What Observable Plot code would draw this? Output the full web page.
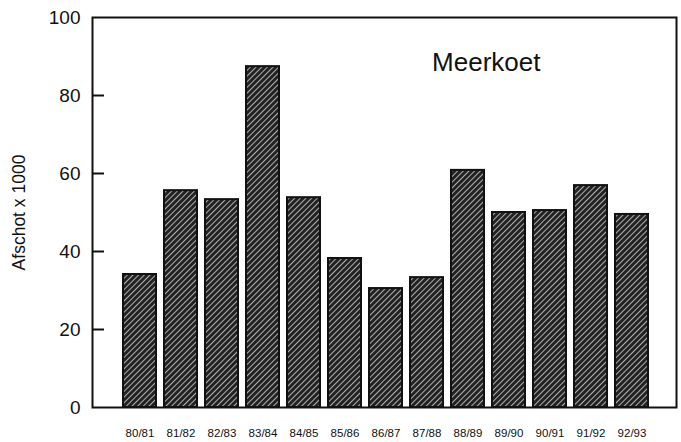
<!DOCTYPE html>
<html>
<head>
<meta charset="utf-8">
<script src="https://cdn.jsdelivr.net/npm/d3@7"></script>
<script src="https://cdn.jsdelivr.net/npm/@observablehq/plot@0.6"></script>
<style>
  html, body { margin: 0; padding: 0; background: #fff; }
  svg { display: block; }
</style>
</head>
<body>
<div id="chart"></div>
<script>
const seasons = ["80/81","81/82","82/83","83/84","84/85","85/86","86/87","87/88","88/89","89/90","90/91","91/92","92/93"];
const afschot = [34.1, 55.6, 53.3, 87.4, 53.8, 38.2, 30.5, 33.3, 60.8, 50.0, 50.5, 56.9, 49.5];
const yTicks = [0, 20, 40, 60, 80, 100];
const title = "Meerkoet";
const yLabel = "Afschot x 1000";

const data = seasons.map((s, i) => ({season: s, value: afschot[i]}));

const chart = Plot.plot({
  width: 681,
  height: 442,
  marginLeft: 92,
  marginRight: 5,
  marginTop: 17,
  marginBottom: 35,
  style: {fontFamily: "'Liberation Sans', Arial, sans-serif", background: "#fff", color: "#111"},
  x: {domain: seasons, range: [115.85, 655.1], paddingInner: 0.2, paddingOuter: 0.1},
  y: {domain: [0, 100]},
  marks: [
    Plot.barY(data, {x: "season", y: "value", fill: "url(#hatch)", stroke: "#111", strokeWidth: 2}),
    Plot.frame({stroke: "#111", strokeWidth: 2}),
    Plot.tickY(yTicks.slice(1, -1), {y: d => d, stroke: "#111", strokeWidth: 2, insetRight: 572}),
    Plot.axisY({ticks: yTicks, tickSize: 0, tickPadding: 12, label: null, fontSize: 19, tickFormat: d => String(d)}),
    Plot.axisX({tickSize: 0, tickPadding: 21, label: null, fontSize: 11.5}),
    Plot.text([yLabel], {frameAnchor: "left", dx: -73, rotate: -90, text: d => d, fontSize: 17.5, textAnchor: "middle", lineAnchor: "middle", fill: "#111"}),
    Plot.text([title], {frameAnchor: "top-right", dx: -136, dy: 45, text: d => d, fontSize: 26, textAnchor: "end", lineAnchor: "middle", fill: "#111"})
  ]
});

// hatch pattern definition
const defs = d3.select(chart).insert("defs", ":first-child");
const pat = defs.append("pattern")
  .attr("id", "hatch")
  .attr("patternUnits", "userSpaceOnUse")
  .attr("width", 4)
  .attr("height", 4)
  .attr("patternTransform", "rotate(45)");
pat.append("rect").attr("width", 4).attr("height", 4).attr("fill", "#222");
pat.append("line").attr("x1", 0).attr("y1", 0).attr("x2", 0).attr("y2", 4)
  .attr("stroke", "#e0e0e0").attr("stroke-width", 1.5);

document.getElementById("chart").appendChild(chart);
</script>
</body>
</html>
